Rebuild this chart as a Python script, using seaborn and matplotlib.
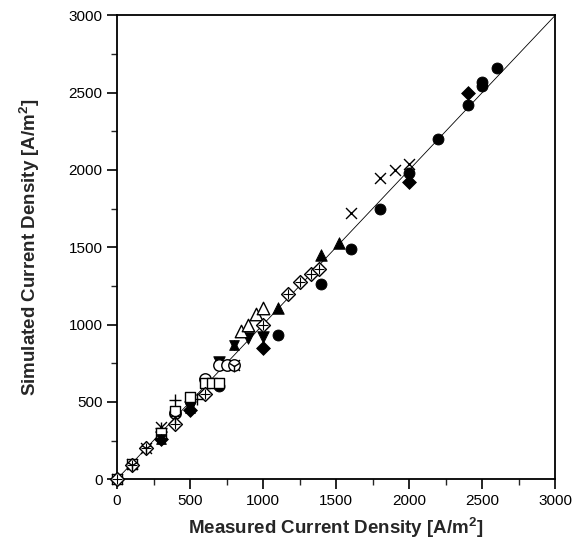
import matplotlib
matplotlib.use("Agg")
import matplotlib.pyplot as plt
import seaborn as sns

# measured vs simulated current density, one list pair per marker series
circle_x = [700, 1100, 1400, 1600, 1800, 2000, 2200, 2400, 2500, 2500, 2600]
circle_y = [600, 930, 1260, 1490, 1750, 1980, 2200, 2420, 2540, 2570, 2660]

diamond_x = [0, 300, 500, 1000, 2000, 2400]
diamond_y = [0, 260, 450, 850, 1920, 2500]

tri_up_x = [1100, 1400, 1520]
tri_up_y = [1110, 1450, 1530]

tri_down_x = [300, 500, 700, 900, 1000]
tri_down_y = [270, 470, 760, 910, 920]

open_tri_x = [850, 900, 950, 1000]
open_tri_y = [960, 1000, 1070, 1110]

cross_x = [0, 100, 200, 300, 800, 1600, 1800, 1900, 2000]
cross_y = [0, 100, 200, 340, 740, 1720, 1950, 2000, 2040]

plus_x = [0, 100, 200, 300, 400, 550]
plus_y = [0, 100, 210, 330, 510, 520]

open_circle_x = [400, 600, 700, 750, 800]
open_circle_y = [430, 650, 740, 740, 740]

square_x = [0, 100, 300, 400, 500, 600, 650, 700]
square_y = [0, 100, 300, 440, 530, 620, 620, 620]

diamond_cross_x = [0, 100, 200, 400, 600, 1000, 1170, 1250, 1330, 1380]
diamond_cross_y = [0, 90, 200, 360, 550, 1000, 1195, 1275, 1330, 1360]

star_x = [300, 500, 800]
star_y = [260, 460, 870]

tri_y_x = [100, 200, 400, 500, 800]
tri_y_y = [90, 200, 400, 480, 730]

line_x = [0, 3000]
line_y = [0, 3000]

sns.set_style("ticks")
plt.rcParams["font.family"] = ["Liberation Sans", "DejaVu Sans"]
plt.rcParams["mathtext.default"] = "regular"

fig = plt.figure(figsize=(5.82, 5.47), dpi=100)
ax = fig.add_axes([0.201, 0.124, 0.753, 0.848])

sns.lineplot(x=line_x, y=line_y, color="black", linewidth=0.6, ax=ax)

size = 62
lw = 1.0
kw = dict(ax=ax, zorder=3, clip_on=False)
sns.scatterplot(x=circle_x, y=circle_y, marker="o", color="black", s=size, edgecolor="black", **kw)
sns.scatterplot(x=diamond_x, y=diamond_y, marker="D", color="black", s=size * 0.8, edgecolor="black", **kw)
sns.scatterplot(x=tri_up_x, y=tri_up_y, marker="^", color="black", s=size * 1.1, edgecolor="black", **kw)
sns.scatterplot(x=tri_down_x, y=tri_down_y, marker="v", color="black", s=size * 1.1, edgecolor="black", **kw)
sns.scatterplot(x=open_tri_x, y=open_tri_y, marker="^", color="white", s=size * 1.3, edgecolor="black", linewidth=lw, **kw)
sns.scatterplot(x=cross_x, y=cross_y, marker="x", color="black", s=size, linewidth=lw, **kw)
sns.scatterplot(x=plus_x, y=plus_y, marker="+", color="black", s=size * 1.2, linewidth=lw, **kw)
sns.scatterplot(x=open_circle_x, y=open_circle_y, marker="o", color="white", s=size * 1.1, edgecolor="black", linewidth=lw, **kw)
sns.scatterplot(x=square_x, y=square_y, marker="s", color="white", s=size, edgecolor="black", linewidth=lw, **kw)
sns.scatterplot(x=diamond_cross_x, y=diamond_cross_y, marker="D", color="white", s=size * 0.8, edgecolor="black", linewidth=lw, **kw)
sns.scatterplot(x=diamond_cross_x, y=diamond_cross_y, marker="+", color="black", s=size * 0.7, linewidth=0.8, ax=ax, zorder=4, clip_on=False)
sns.scatterplot(x=star_x, y=star_y, marker="^", color="black", s=size * 0.8, edgecolor="black", **kw)
sns.scatterplot(x=star_x, y=star_y, marker="v", color="black", s=size * 0.8, edgecolor="black", **kw)
sns.scatterplot(x=tri_y_x, y=tri_y_y, marker="1", color="black", s=size * 1.2, linewidth=lw, **kw)

ax.set_xlim(0, 3000)
ax.set_ylim(0, 3000)
ax.set_xticks(range(0, 3001, 500))
ax.set_yticks(range(0, 3001, 500))
ax.set_xticks(range(250, 3000, 500), minor=True)
ax.set_yticks(range(250, 3000, 500), minor=True)
ax.tick_params(which="major", direction="out", length=7, width=1.2, labelsize=11, colors="black")
ax.tick_params(which="minor", direction="out", length=4, width=1.0)
for sp in ax.spines.values():
    sp.set_visible(True)
    sp.set_linewidth(1.3)
    sp.set_color("black")

ax.set_xlabel("Measured Current Density [A/m$^2$]", fontsize=13.5, fontweight="bold", labelpad=6)
ax.set_ylabel("Simulated Current Density [A/m$^2$]", fontsize=13.5, fontweight="bold", labelpad=19)

fig.savefig("out.png", dpi=100)
